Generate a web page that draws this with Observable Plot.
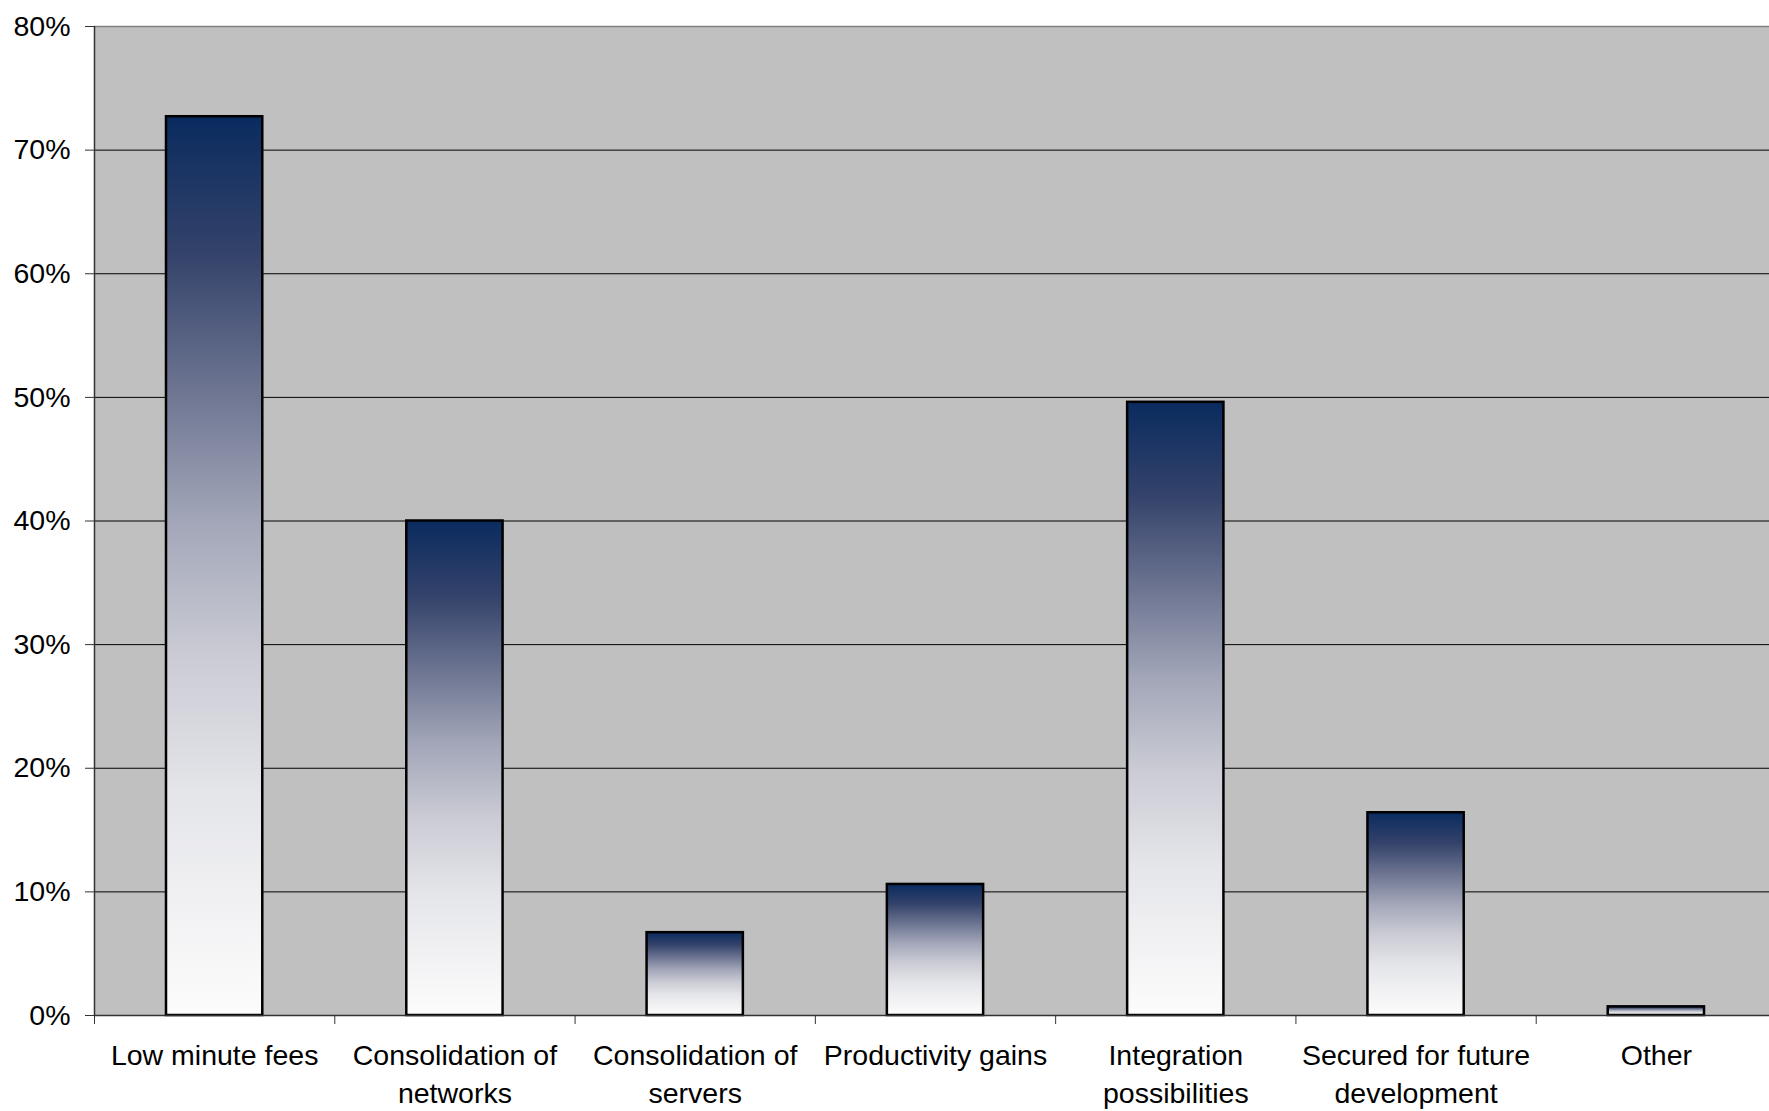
<!DOCTYPE html>
<html>
<head>
<meta charset="utf-8">
<script src="https://cdn.jsdelivr.net/npm/d3@7"></script>
<script src="https://cdn.jsdelivr.net/npm/@observablehq/plot@0.6"></script>
<style>
  html, body { margin: 0; padding: 0; background: #ffffff; overflow: hidden; }
  #chart svg { display: block; }
</style>
</head>
<body>
<div id="chart"></div>
<script>
// Reasons given, share of respondents (%)
const categories = [
  "Low minute fees",
  "Consolidation of\nnetworks",
  "Consolidation of\nservers",
  "Productivity gains",
  "Integration\npossibilities",
  "Secured for future\ndevelopment",
  "Other"
];
const values = [72.7, 40.0, 6.7, 10.6, 49.6, 16.4, 0.7];
const yTicks = [0, 10, 20, 30, 40, 50, 60, 70, 80];

const rows = categories.map((label, i) => ({label, value: values[i], i}));
const boundaries = d3.range(categories.length + 1);
const FONT = "'Liberation Sans', Arial, Helvetica, sans-serif";

// Vertical navy-to-white fill shared by every bar
const gradientDefs = () => {
  const ns = "http://www.w3.org/2000/svg";
  const defs = document.createElementNS(ns, "defs");
  const grad = document.createElementNS(ns, "linearGradient");
  grad.setAttribute("id", "barGrad");
  grad.setAttribute("x1", "0"); grad.setAttribute("y1", "0");
  grad.setAttribute("x2", "0"); grad.setAttribute("y2", "1");
  [
    [0, "#0a2b5f"], [0.15, "#33426a"], [0.3, "#6b7390"], [0.45, "#a2a6b8"],
    [0.6, "#cacbd4"], [0.75, "#e4e5e9"], [0.9, "#f3f3f5"], [1, "#fcfcfc"]
  ].forEach(([o, c]) => {
    const s = document.createElementNS(ns, "stop");
    s.setAttribute("offset", o);
    s.setAttribute("stop-color", c);
    grad.appendChild(s);
  });
  defs.appendChild(grad);
  return defs;
};

const chart = Plot.plot({
  width: 1769,
  height: 1111,
  marginLeft: 94,
  marginRight: -7,
  marginTop: 26,
  marginBottom: 96,
  style: {fontFamily: FONT, fontSize: "28px", color: "#000", background: "#fff", overflow: "hidden"},
  x: {domain: [0, categories.length], axis: null, label: null},
  y: {domain: [0, 80], axis: null, label: null},
  marks: [
    gradientDefs,
    Plot.frame({fill: "#c0c0c0", stroke: null}),
    Plot.ruleY(yTicks.filter(d => d > 0 && d < 80), {stroke: "#000", strokeWidth: 1}),
    Plot.ruleY([80], {stroke: "#808080", strokeWidth: 1.5}),
    Plot.rectY(rows, {
      x1: "i",
      x2: d => d.i + 1,
      y: "value",
      insetLeft: 72,
      insetRight: 72,
      fill: "url(#barGrad)",
      stroke: "#000",
      strokeWidth: 2.5
    }),
    Plot.ruleX([0], {stroke: "#333", strokeWidth: 1.5}),
    Plot.ruleY([0], {stroke: "#333", strokeWidth: 1.5}),
    Plot.axisY(yTicks, {
      label: null,
      tickSize: 9,
      tickPadding: 15,
      tickFormat: d => d + "%",
      stroke: "#333",
      fontSize: 28.5,
      fill: "#000"
    }),
    Plot.axisX(boundaries, {
      label: null,
      tickSize: 9,
      tickFormat: () => "",
      stroke: "#333"
    }),
    Plot.text(rows, {
      x: d => d.i + 0.5,
      y: 0,
      text: "label",
      dy: 23,
      lineAnchor: "top",
      lineHeight: 1.33,
      fontSize: 28.5,
      fill: "#000"
    })
  ]
});

document.getElementById("chart").appendChild(chart);
</script>
</body>
</html>
